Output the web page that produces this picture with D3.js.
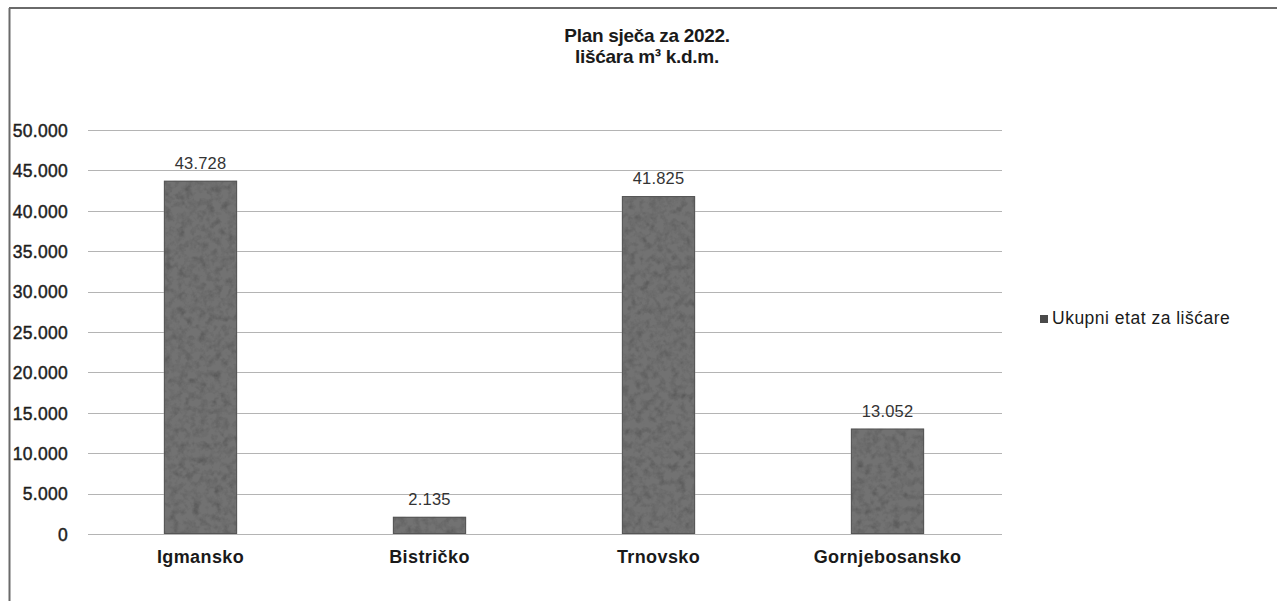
<!DOCTYPE html>
<html>
<head>
<meta charset="utf-8">
<script src="https://cdn.jsdelivr.net/npm/d3@7"></script>
<style>
  html, body { margin: 0; padding: 0; background: #fff; }
  svg { display: block; font-family: Arial, "Liberation Sans", sans-serif; }
</style>
</head>
<body>
<svg id="chart" width="1277" height="601"></svg>
<script>
// Cutting plan 2022, broadleaf volume (m³ k.d.m.) per forest management area
const categories = ["Igmansko", "Bistričko", "Trnovsko", "Gornjebosansko"];
const values = [43728, 2135, 41825, 13052];
const yTicks = [0, 5000, 10000, 15000, 20000, 25000, 30000, 35000, 40000, 45000, 50000];
const titleLines = ["Plan sječa za 2022.", "lišćara m³ k.d.m."];
const seriesName = "Ukupni etat za lišćare";

const W = 1277, H = 601;
const margin = { left: 86, right: 1002, top: 130, bottom: 534 };

const loc = d3.formatLocale({ decimal: ",", thousands: ".", grouping: [3], currency: ["", ""] });
const fmt = loc.format(",d");

const svg = d3.select("#chart");

// grainy texture for the bars
const defs = svg.append("defs");
const f = defs.append("filter").attr("id", "grain")
  .attr("x", 0).attr("y", 0).attr("width", "100%").attr("height", "100%");
f.append("feTurbulence").attr("type", "fractalNoise").attr("baseFrequency", 0.14)
  .attr("numOctaves", 3).attr("seed", 7).attr("result", "noise");
f.append("feColorMatrix").attr("in", "noise").attr("type", "matrix")
  .attr("values", "0.33 0.33 0.33 0 0  0.33 0.33 0.33 0 0  0.33 0.33 0.33 0 0  0 0 0 0 1")
  .attr("result", "gray");
const ct = f.append("feComponentTransfer").attr("in", "gray").attr("result", "shade");
["feFuncR", "feFuncG", "feFuncB"].forEach(n =>
  ct.append(n).attr("type", "linear").attr("slope", 1.3).attr("intercept", 0.28));
f.append("feBlend").attr("in", "SourceGraphic").attr("in2", "shade").attr("mode", "multiply").attr("result", "mix");
f.append("feComposite").attr("in", "mix").attr("in2", "SourceGraphic").attr("operator", "in");

// frame
svg.append("line").attr("x1", 9).attr("x2", W).attr("y1", 8).attr("y2", 8)
  .attr("stroke", "#6a6a6a").attr("stroke-width", 2);
svg.append("line").attr("x1", 9.5).attr("x2", 9.5).attr("y1", 8).attr("y2", H)
  .attr("stroke", "#6a6a6a").attr("stroke-width", 2);

const x = d3.scaleBand().domain(categories).range([margin.left, margin.right])
  .paddingInner(0.68).paddingOuter(0.34);
const y = d3.scaleLinear().domain([0, 50000]).range([margin.bottom, margin.top]);

// gridlines
svg.append("g").selectAll("line").data(yTicks).join("line")
  .attr("x1", margin.left + 2).attr("x2", margin.right)
  .attr("y1", d => Math.round(y(d)) + 0.5).attr("y2", d => Math.round(y(d)) + 0.5)
  .attr("stroke", "#b4b4b4").attr("stroke-width", 1);

// y-axis labels
const yAxis = d3.axisLeft(y).tickValues(yTicks).tickSize(0).tickPadding(0)
  .tickFormat(d => d === 0 ? "0" : fmt(d));
const ga = svg.append("g").attr("transform", `translate(68,0)`).call(yAxis);
ga.select(".domain").remove();
ga.selectAll("text").attr("font-size", 17.5).attr("fill", "#1e1e1e")
  .attr("stroke", "#1e1e1e").attr("stroke-width", 0.45)
  .attr("letter-spacing", "0.3px")
  .attr("font-family", "Arial, 'Liberation Sans', sans-serif").attr("dy", "0.36em");

// bars
svg.append("g").selectAll("rect").data(values).join("rect")
  .attr("x", (d, i) => x(categories[i]))
  .attr("width", x.bandwidth())
  .attr("y", d => y(d))
  .attr("height", d => y(0) - y(d))
  .attr("fill", "#727272")
  .attr("filter", "url(#grain)");
svg.append("g").selectAll("rect").data(values).join("rect")
  .attr("x", (d, i) => x(categories[i]) + 0.5)
  .attr("width", x.bandwidth() - 1)
  .attr("y", d => y(d) + 0.5)
  .attr("height", d => y(0) - y(d) - 1)
  .attr("fill", "none").attr("stroke", "#555").attr("stroke-width", 1);

// value labels
svg.append("g").selectAll("text").data(values).join("text")
  .attr("x", (d, i) => x(categories[i]) + x.bandwidth() / 2)
  .attr("y", d => y(d) - 12)
  .attr("text-anchor", "middle")
  .attr("font-size", 16.5).attr("fill", "#333")
  .attr("letter-spacing", "0.2px")
  .text(d => fmt(d));

// category labels
svg.append("g").selectAll("text").data(categories).join("text")
  .attr("x", d => x(d) + x.bandwidth() / 2)
  .attr("y", 563)
  .attr("text-anchor", "middle")
  .attr("font-size", 18).attr("font-weight", "bold").attr("fill", "#1a1a1a")
  .attr("letter-spacing", "0.4px")
  .text(d => d);

// title
svg.append("g").selectAll("text").data(titleLines).join("text")
  .attr("x", 647).attr("y", (d, i) => 42 + i * 21)
  .attr("text-anchor", "middle")
  .attr("font-size", 19).attr("font-weight", "bold").attr("fill", "#1a1a1a")
  .attr("letter-spacing", "-0.3px")
  .text(d => d);

// legend
const lg = svg.append("g").attr("transform", "translate(1040,315)");
lg.append("rect").attr("width", 8).attr("height", 8).attr("fill", "#4a4a4a");
lg.append("text").attr("x", 12).attr("y", 8.5)
  .attr("font-size", 17.5).attr("fill", "#1a1a1a").attr("letter-spacing", "0.5px")
  .text(seriesName);
</script>
</body>
</html>
